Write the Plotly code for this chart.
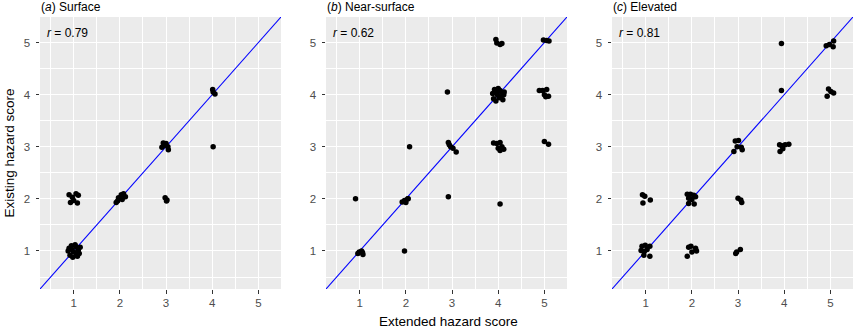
import plotly.graph_objects as go

# ---- data (jittered points) ----
panel_titles = ["(<i>a</i>) Surface", "(<i>b</i>) Near-surface", "(<i>c</i>) Elevated"]
r_labels = ["<i>r</i> = 0.79", "<i>r</i> = 0.62", "<i>r</i> = 0.81"]
tick_vals = [1, 2, 3, 4, 5]
tick_text = ["1", "2", "3", "4", "5"]
minor_vals = [0.5, 1.5, 2.5, 3.5, 4.5, 5.5]
axis_range = [0.27, 5.49]

surface_x = [0.90, 0.95, 1.00, 1.05, 1.10, 0.92, 0.98, 1.08, 1.12, 0.88, 1.03, 0.96, 1.06, 1.14,
             0.90, 0.97, 1.05, 1.10, 0.93, 1.08, 1.00,
             1.92, 1.97, 2.03, 2.08, 2.12, 1.95, 2.05,
             2.98, 3.02, 3.01,
             2.94, 3.00, 2.91, 3.04, 3.05, 2.97,
             4.01, 4.06, 4.02,
             4.02]
surface_y = [1.05, 1.10, 0.98, 1.08, 1.02, 0.92, 0.88, 0.90, 0.95, 1.00, 1.12, 1.03, 0.94, 1.07,
             2.08, 2.03, 2.10, 2.07, 1.93, 1.92, 1.97,
             1.93, 2.02, 2.08, 2.10, 2.04, 1.96, 1.99,
             2.02, 1.98, 1.96,
             3.07, 3.06, 2.99, 3.00, 2.94, 3.03,
             4.10, 4.01, 4.05,
             3.00]

near_x = [0.96, 1.04, 1.07, 1.06, 0.99,
          0.91,
          1.97,
          1.92, 2.00, 2.04, 1.97, 2.05,
          2.92,
          4.04,
          2.08,
          2.92, 2.94, 2.97, 3.02, 3.09,
          2.90,
          3.88, 3.92, 3.96, 4.00, 4.04, 4.08, 4.12, 3.90, 3.95, 4.02, 4.10, 3.98, 4.06, 4.13,
          3.95, 3.97, 4.04, 4.08,
          3.90, 3.97, 4.04, 4.08, 4.00, 4.04, 4.12,
          4.98, 5.05, 5.10,
          4.89, 4.96, 5.05, 5.00, 5.03, 5.09,
          5.00, 5.09]
near_y = [0.95, 1.00, 0.93, 0.97, 0.98,
          2.00,
          1.00,
          1.94, 1.93, 2.00, 1.97, 2.00,
          2.04,
          1.90,
          3.00,
          3.08, 3.04, 3.00, 2.97, 2.90,
          4.05,
          4.02, 4.10, 4.06, 4.12, 4.08, 4.04, 4.00, 3.92, 3.88, 3.94, 3.90, 4.00, 3.96, 4.05,
          5.06, 4.99, 4.96, 4.98,
          3.07, 3.06, 3.08, 3.00, 2.97, 2.93, 2.95,
          5.05, 5.04, 5.03,
          4.08, 4.08, 4.10, 4.00, 3.96, 3.97,
          3.10, 3.05]

elev_x = [0.92, 0.99, 1.09, 0.90, 0.97, 1.03, 0.96, 1.09,
          0.93, 0.98, 1.10, 0.94,
          1.90, 1.97, 2.04, 1.93, 2.00, 2.08, 1.93, 2.05,
          1.93, 1.98, 2.08, 2.00, 2.10, 1.90,
          2.95, 2.97, 3.05,
          3.00, 3.06, 3.08,
          2.94, 2.91, 2.98, 3.07, 3.09, 3.01,
          3.90, 3.95, 4.02, 4.10, 3.91, 3.97,
          3.94,
          3.94,
          4.91, 4.98, 5.07, 5.06,
          4.96, 5.01, 5.07, 4.93]
elev_y = [1.09, 1.11, 1.09, 1.01, 0.99, 1.03, 0.92, 0.90,
          2.08, 2.05, 1.98, 1.92,
          2.09, 2.09, 2.07, 2.01, 1.99, 2.04, 1.91, 1.90,
          1.07, 1.09, 1.05, 0.98, 1.00, 0.90,
          0.95, 0.98, 1.03,
          2.01, 1.98, 1.93,
          3.11, 2.91, 3.00, 2.99, 2.94, 3.12,
          3.04, 3.02, 3.04, 3.05, 2.91, 2.96,
          4.08,
          4.98,
          4.94, 4.96, 5.03, 4.92,
          4.11, 4.06, 4.03, 3.97]

panels = [(surface_x, surface_y), (near_x, near_y), (elev_x, elev_y)]

# ---- layout geometry ----
W, H = 854, 329
x_domains = [(40, 281), (326, 567), (612, 853)]
y_top, y_bot = 17, 289
y_domain = [(H - y_bot) / H, (H - y_top) / H]

fig = go.Figure()
font_family = "Liberation Sans, Arial, sans-serif"

for i, (xs, ys) in enumerate(panels):
    idx = "" if i == 0 else str(i + 1)
    xa, ya = "x" + idx, "y" + idx
    # identity line
    fig.add_trace(go.Scatter(x=[0, 6], y=[0, 6], mode="lines",
                             line=dict(color="#0000FF", width=1.1),
                             xaxis=xa, yaxis=ya, showlegend=False, hoverinfo="skip"))
    fig.add_trace(go.Scatter(x=xs, y=ys, mode="markers",
                             marker=dict(color="black", size=5.5, line=dict(width=0)),
                             xaxis=xa, yaxis=ya, showlegend=False, cliponaxis=False))
    d = x_domains[i]
    axis_common = dict(range=axis_range, tickmode="array", tickvals=tick_vals, ticktext=tick_text,
                       showgrid=True, gridcolor="white", gridwidth=1.3, zeroline=False,
                       ticks="outside", ticklen=3.5, tickwidth=1, tickcolor="#333333",
                       tickfont=dict(family=font_family, size=11.5, color="#4d4d4d"),
                       showline=False,
                       minor=dict(tickvals=minor_vals, showgrid=True, gridcolor="white",
                                  gridwidth=0.6, ticks=""))
    fig.update_layout(**{
        "xaxis" + idx: dict(domain=[d[0] / W, d[1] / W], anchor=ya, **axis_common),
        "yaxis" + idx: dict(domain=y_domain, anchor=xa, ticklabelstandoff=3, **axis_common),
    })
    fig.add_annotation(x=d[0] / W, y=1, xref="paper", yref="paper",
                       text=panel_titles[i], showarrow=False, xanchor="left", yanchor="top",
                       font=dict(family=font_family, size=12, color="black"), xshift=-1, yshift=2)
    fig.add_annotation(x=d[0] / W, y=(H - 24) / H, xref="paper", yref="paper",
                       text=r_labels[i], showarrow=False, xanchor="left", yanchor="top",
                       font=dict(family=font_family, size=12, color="black"), xshift=5)

fig.add_annotation(x=448 / W, y=0, xref="paper", yref="paper", text="Extended hazard score",
                   showarrow=False, xanchor="center", yanchor="bottom",
                   font=dict(family=font_family, size=13.5, color="black"), yshift=-2)
fig.add_annotation(x=0, y=(H - 153) / H, xref="paper", yref="paper", text="Existing hazard score",
                   showarrow=False, xanchor="left", yanchor="middle", textangle=-90,
                   font=dict(family=font_family, size=13.5, color="black"), xshift=-1)

fig.update_layout(width=W, height=H, margin=dict(l=0, r=0, t=0, b=0),
                  paper_bgcolor="white", plot_bgcolor="#EBEBEB")

# remove the browser's default 8px body margin so the figure fills the window exactly
fig.write_html("out.html", config={"displayModeBar": False},
               post_script="document.body.style.margin='0';document.body.style.overflow='hidden';")
